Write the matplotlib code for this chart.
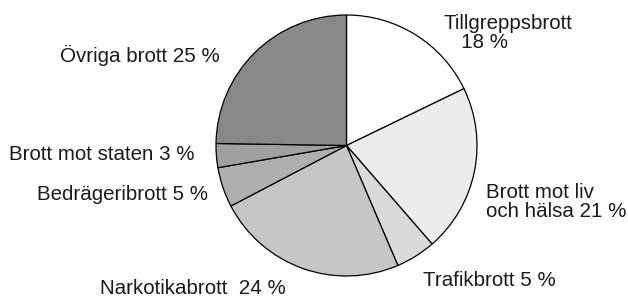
import matplotlib.pyplot as plt

categories = ['Tillgreppsbrott', 'Brott mot liv och hälsa', 'Trafikbrott',
              'Narkotikabrott', 'Bedrägeribrott', 'Brott mot staten', 'Övriga brott']
shares = [18, 21, 5, 24, 5, 3, 25]
labels = ['Tillgreppsbrott\n   18 %', 'Brott mot liv\noch hälsa 21 %', 'Trafikbrott 5 %',
          'Narkotikabrott  24 %', 'Bedrägeribrott 5 %', 'Brott mot staten 3 %', 'Övriga brott 25 %']
fills = ['#ffffff', '#ececec', '#dadada', '#c6c6c6', '#afafaf', '#a0a0a0', '#888888']

plt.rcParams['font.family'] = ['Liberation Sans', 'DejaVu Sans']

fig = plt.figure(figsize=(6.28, 3.0), dpi=100)
ax = fig.add_axes([0, 0, 1, 1])

# pixel-like coordinates, y grows downward -> counterclock=True draws clockwise on screen
ax.pie(shares, colors=fills, center=(346.5, 145.5), radius=130.5,
       startangle=-90, counterclock=True,
       wedgeprops=dict(edgecolor='black', linewidth=0.9))
ax.set_xlim(0, 628)
ax.set_ylim(300, 0)
ax.set_aspect('auto')
ax.axis('off')

# label anchors (x, y, ha)
spots = [(444, 33, 'left'), (486, 202, 'left'), (423, 280, 'left'),
         (100, 288, 'left'), (37, 194, 'left'), (9, 155, 'left'), (220, 55, 'right')]
for lab, (x, y, ha) in zip(labels, spots):
    ax.text(x, y, lab, ha=ha, va='center', fontsize=14.8, color='#1a1a1a',
            linespacing=1.05)

fig.savefig('out.png', dpi=100)
